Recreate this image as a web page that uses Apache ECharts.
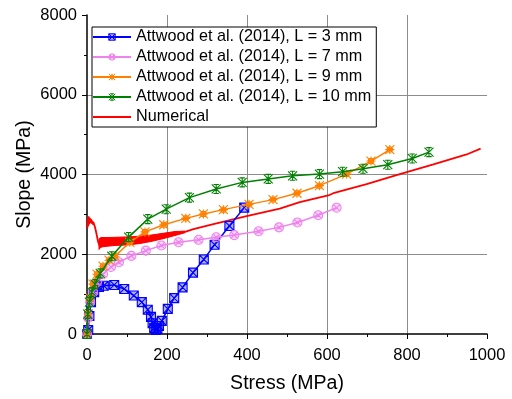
<!DOCTYPE html>
<html><head><meta charset="utf-8">
<script src="https://cdn.jsdelivr.net/npm/echarts@6/dist/echarts.min.js"></script>
<style>html,body{margin:0;padding:0;background:#fff}#c{width:512px;height:399px}</style>
</head><body><div id="c"></div>
<script>
const xTicks = [0, 200, 400, 600, 800, 1000];
const yTicks = [0, 2000, 4000, 6000, 8000];
const seriesNames = ['Attwood et al. (2014), L = 3 mm','Attwood et al. (2014), L = 7 mm','Attwood et al. (2014), L = 9 mm','Attwood et al. (2014), L = 10 mm','Numerical'];
const l3 = [[0,0],[3,100],[6,450],[10,800],[18,1050],[30,1180],[42,1210],[68,1230],[93,1130],[117,965],[137,800],[152,610],[160,430],[164,270],[168,150],[172,100],[176,130],[180,200],[187,330],[202,630],[218,900],[239,1170],[265,1540],[292,1870],[319,2240],[356,2710],[393,3170]];
const l7 = [[0,0],[3,400],[8,800],[15,1050],[25,1300],[40,1500],[60,1680],[80,1800],[111,1960],[147,2090],[186,2220],[229,2300],[279,2362],[323,2425],[368,2480],[429,2577],[480,2674],[526,2798],[578,2979],[624,3168]];
const l9 = [[0,0],[3,500],[8,900],[15,1250],[25,1500],[40,1700],[55,1850],[70,1950],[107,2300],[145,2560],[192,2740],[247,2900],[291,3010],[341,3119],[405,3251],[465,3370],[525,3530],[581,3720],[649,4010],[710,4337],[757,4625]];
const l10 = [[0,0],[2,500],[6,800],[12,1050],[20,1250],[33,1520],[62,1950],[104,2430],[152,2880],[198,3130],[256,3420],[323,3637],[388,3802],[453,3890],[514,3967],[581,4010],[639,4070],[690,4145],[752,4245],[813,4403],[855,4560]];
// Numerical curve: noisy start and the thin part after the band
const numericalStart = [[1,2650],[2,2900],[3,2700],[4,2950],[5,2750],[6,2920],[7,2780],[8,2900],[9,2800],[10,2880],[11,2780],[12,2850],[13,2760],[14,2830],[15,2740],[16,2800],[18,2750],[20,2680],[22,2650],[24,2500],[26,2450],[28,2300],[30,2250],[32,2200],[34,2250]];
const numericalTail = [[245,2560],[266,2630],[316,2757],[399,2955],[482,3144],[532,3309],[603,3474],[616,3531],[699,3761],[782,4008],[866,4255],[949,4502],[984,4650]];
// Noise band of the numerical curve (lower and upper envelopes)
const bandX     = [30, 34, 40, 50, 70, 100, 130, 160, 190, 220, 245];
const bandLower = [2120, 2170, 2190, 2200, 2220, 2235, 2265, 2320, 2390, 2470, 2540];
const bandUpper = [2380, 2420, 2420, 2420, 2425, 2435, 2450, 2480, 2525, 2570, 2580];

const FONT = 'Liberation Sans, Arial, Helvetica, sans-serif';
const colors = ['#0000ff','#ee82ee','#ff8000','#008000','#ff0000'];
const fills = ['rgba(0,0,255,0.3)','rgba(238,130,238,0.3)','rgba(255,128,0,0.3)','rgba(0,128,0,0.3)'];
const symbols = [
  'path://M0,0H10V10H0Z M0,0L10,10 M10,0L0,10',
  'path://M10,5A5,5,0,1,1,0,5A5,5,0,1,1,10,5Z M1.5,1.5L8.5,8.5M8.5,1.5L1.5,8.5',
  'path://M8,5A3,3,0,1,1,2,5A3,3,0,1,1,8,5Z M0,0L10,10M10,0L0,10M5,0L5,10M0,5L10,5',
  'path://M0,0L10,10M10,0L0,10M2,0H8M2,10H8M5,0V10'
];
const expData = [l3, l7, l9, l10];
const series = expData.map((d, i) => ({
  name: seriesNames[i], type: 'line', data: d,
  symbol: symbols[i], symbolSize: 9, showSymbol: true,
  lineStyle: { color: colors[i], width: 1.5 },
  itemStyle: { color: fills[i], borderColor: colors[i], borderWidth: 1.1 },
  animation: false, z: 3 + i
}));
const redLine = { color: colors[4], width: 1.8 };
series.push({
  name: seriesNames[4], type: 'line', data: numericalStart, showSymbol: false, symbol: 'none',
  itemStyle: { color: colors[4] }, lineStyle: redLine, animation: false, z: 2
});
series.push({
  name: seriesNames[4], type: 'line', data: numericalTail, showSymbol: false, symbol: 'none',
  itemStyle: { color: colors[4] }, lineStyle: redLine, animation: false, z: 2
});
series.push({
  name: 'band', type: 'custom', data: [[bandX[0], bandLower[0]]], animation: false, z: 2,
  renderItem: function (params, api) {
    const pts = [];
    for (let i = 0; i < bandX.length; i++) pts.push(api.coord([bandX[i], bandUpper[i]]));
    for (let i = bandX.length - 1; i >= 0; i--) pts.push(api.coord([bandX[i], bandLower[i]]));
    return { type: 'polygon', shape: { points: pts }, style: { fill: colors[4], stroke: colors[4], lineWidth: 1 } };
  }
});

const legendData = seriesNames.map((n, i) => i < 4
  ? { name: n, itemStyle: { color: fills[i], borderColor: colors[i], borderWidth: 1 } }
  : { name: n, itemStyle: { color: 'rgba(0,0,0,0)', borderWidth: 0, opacity: 0 } });

const chart = echarts.init(document.getElementById('c'));
chart.setOption({
  animation: false,
  backgroundColor: '#fff',
  textStyle: { fontFamily: FONT },
  grid: { left: 87, top: 15, width: 400, height: 324, containLabel: false },
  legend: {
    orient: 'vertical', left: 92, top: 27,
    padding: [2, 5, 2, 0], itemGap: 4, itemWidth: 38, itemHeight: 8,
    borderColor: '#000', borderWidth: 1, backgroundColor: '#fff',
    textStyle: { fontFamily: FONT, fontSize: 16.2, color: '#000' },
    data: legendData
  },
  xAxis: {
    type: 'value', min: xTicks[0], max: xTicks[xTicks.length - 1], interval: xTicks[1] - xTicks[0],
    name: 'Stress (MPa)', nameLocation: 'middle', nameGap: 40, nameMoveOverlap: false,
    nameTextStyle: { fontFamily: FONT, fontSize: 19.5, color: '#000' },
    axisLine: { show: true, onZero: false, lineStyle: { color: '#000', width: 1.5 } },
    axisTick: { show: true, length: 5, lineStyle: { color: '#000', width: 1 } },
    minorTick: { show: true, splitNumber: 2, length: 3, lineStyle: { color: '#000', width: 1 } },
    axisLabel: { fontFamily: FONT, fontSize: 16.5, color: '#000', margin: 13, formatter: v => String(v) },
    splitLine: { show: true, showMinLine: false, showMaxLine: false, lineStyle: { color: '#8c8c8c', width: 1 } }
  },
  yAxis: {
    type: 'value', min: yTicks[0], max: yTicks[yTicks.length - 1], interval: yTicks[1] - yTicks[0],
    name: 'Slope (MPa)', nameLocation: 'middle', nameGap: 52, nameMoveOverlap: false,
    nameTextStyle: { fontFamily: FONT, fontSize: 19.5, color: '#000' },
    axisLine: { show: true, onZero: false, lineStyle: { color: '#000', width: 1.5 } },
    axisTick: { show: true, length: 5, lineStyle: { color: '#000', width: 1 } },
    minorTick: { show: true, splitNumber: 2, length: 3, lineStyle: { color: '#000', width: 1 } },
    axisLabel: { fontFamily: FONT, fontSize: 16.5, color: '#000', margin: 10, formatter: v => String(v) },
    splitLine: { show: true, showMinLine: false, showMaxLine: false, lineStyle: { color: '#8c8c8c', width: 1 } }
  },
  series: series
});
</script></body></html>
